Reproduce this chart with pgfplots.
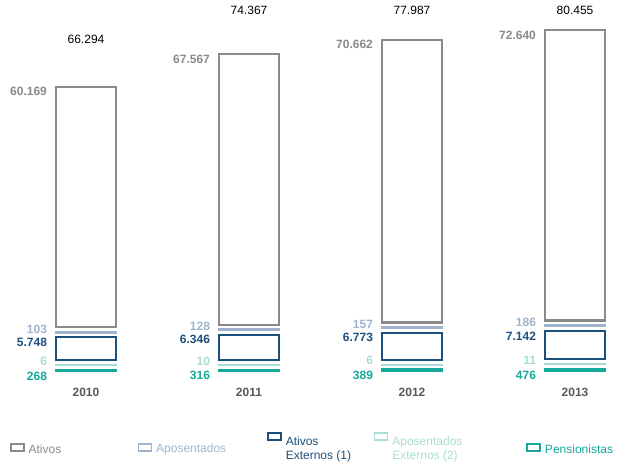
\documentclass[border=0pt]{standalone}
\usepackage{pgfplots}
\pgfplotsset{compat=1.18}
\usepackage{pgfplotstable}
\usepackage{fontspec}
\setmainfont{Liberation Sans}
\definecolor{cAtivos}{HTML}{8A8A8A}
\definecolor{cApos}{HTML}{9FB4CC}
\definecolor{cAtExt}{HTML}{1B4F7C}
\definecolor{cApExt}{HTML}{A8DCD4}
\definecolor{cPens}{HTML}{14A89A}
\definecolor{cYear}{HTML}{595959}
% values in thousands
\pgfplotstableread{
x y lab
0 0.268 268
1 0.316 316
2 0.389 389
3 0.476 476
}\pens
\pgfplotstableread{
x y lab
0 0.006 6
1 0.010 10
2 0.006 6
3 0.011 11
}\apext
\pgfplotstableread{
x y lab
0 5.748 5.748
1 6.346 6.346
2 6.773 6.773
3 7.142 7.142
}\atext
\pgfplotstableread{
x y lab
0 0.103 103
1 0.128 128
2 0.157 157
3 0.186 186
}\apos
\pgfplotstableread{
x y lab
0 60.169 60.169
1 67.567 67.567
2 70.662 70.662
3 72.640 72.640
}\ativos
\pgfplotstableread{
x y
0 1.2
1 1.2
2 1.2
3 1.2
}\gap
\newcommand{\legbox}[2]{\parbox[c][30pt][c]{#1}{#2}}
\begin{document}
\begin{tikzpicture}
\path[use as bounding box] (0,0) rectangle (617pt,466pt);
\begin{axis}[
  scale only axis, width=617pt, height=466pt,
  at={(0,0)}, anchor=south west,
  xmin=-0.5276, xmax=3.2577, ymin=-23.75, ymax=92.75,
  ybar stacked, bar width=60pt,
  axis lines=none, clip=false,
  font=\fontsize{12}{14}\selectfont,
  visualization depends on={rawy \as \rawy},
  every node near coord/.append style={font=\bfseries\fontsize{12}{14}\selectfont, anchor=east, xshift=-38pt, inner sep=0pt},
  legend columns=5, reverse legend,
  legend style={draw=none, fill=none, at={(axis cs:-0.4663,-15.25)}, anchor=north west,
    font=\fontsize{12}{14}\selectfont,
    nodes={inner sep=0pt},
    /tikz/every odd column/.style={column sep=4pt},
    /tikz/every even column/.style={column sep=0pt},
    row sep=0pt, inner sep=0pt, outer sep=0pt},
  legend cell align=left,
]
\addplot[draw=cPens, fill=none, line width=2pt, nodes near coords, point meta=explicit symbolic,
  every node near coord/.append style={color=cPens, yshift={(2*\rawy-6)*1pt}},
  legend image code/.code={\draw[cPens,line width=1.6pt] (0pt,-6.5pt) rectangle (13pt,0.5pt);}]
  table[x=x,y=y,meta=lab]{\pens};
\addlegendentry{\legbox{80pt}{\color{cPens}Pensionistas}}
\addplot[draw=none, fill=none, forget plot] table[x=x,y=y]{\gap};
\addplot[draw=cApExt, fill=none, line width=2pt, nodes near coords, point meta=explicit symbolic,
  every node near coord/.append style={color=cApExt, yshift={(2*\rawy+4)*1pt}},
  legend image code/.code={\draw[cApExt,line width=1.6pt] (0pt,4.5pt) rectangle (13pt,11.5pt);}]
  table[x=x,y=y,meta=lab]{\apext};
\addlegendentry{\legbox{134pt}{\color{cApExt}Aposentados\\Externos (2)}}
\addplot[draw=none, fill=none, forget plot] table[x=x,y=y]{\gap};
\addplot[draw=cAtExt, fill=none, line width=2pt, nodes near coords, point meta=explicit symbolic,
  every node near coord/.append style={color=cAtExt, yshift={(2*\rawy-5)*1pt}},
  legend image code/.code={\draw[cAtExt,line width=1.6pt] (0pt,4.5pt) rectangle (13pt,11.5pt);}]
  table[x=x,y=y,meta=lab]{\atext};
\addlegendentry{\legbox{88pt}{\color{cAtExt}Ativos\\Externos (1)}}
\addplot[draw=none, fill=none, forget plot] table[x=x,y=y]{\gap};
\addplot[draw=cApos, fill=none, line width=2pt, nodes near coords, point meta=explicit symbolic,
  every node near coord/.append style={color=cApos, yshift={(2*\rawy+3)*1pt}},
  legend image code/.code={\draw[cApos,line width=1.6pt] (0pt,-6.5pt) rectangle (13pt,0.5pt);}]
  table[x=x,y=y,meta=lab]{\apos};
\addlegendentry{\legbox{111pt}{\color{cApos}Aposentados}}
\addplot[draw=none, fill=none, forget plot] table[x=x,y=y]{\gap};
\addplot[draw=cAtivos, fill=none, line width=2.2pt, nodes near coords, point meta=explicit symbolic,
  every node near coord/.append style={color=cAtivos, yshift={(2*\rawy-5)*1pt}},
  legend image code/.code={\draw[cAtivos,line width=1.6pt] (0pt,-6.5pt) rectangle (13pt,0.5pt);}]
  table[x=x,y=y,meta=lab]{\ativos};
\addlegendentry{\legbox{109pt}{\color{cAtivos}Ativos}}
% totals
\node[anchor=base] at (axis cs:0,82) {66.294};
\node[anchor=base] at (axis cs:1,89.25) {74.367};
\node[anchor=base] at (axis cs:2,89.25) {77.987};
\node[anchor=base] at (axis cs:3,89.25) {80.455};
% years
\node[font=\bfseries\fontsize{12}{14}\selectfont, text=cYear] at (axis cs:0,-5.25) {2010};
\node[font=\bfseries\fontsize{12}{14}\selectfont, text=cYear] at (axis cs:1,-5.25) {2011};
\node[font=\bfseries\fontsize{12}{14}\selectfont, text=cYear] at (axis cs:2,-5.25) {2012};
\node[font=\bfseries\fontsize{12}{14}\selectfont, text=cYear] at (axis cs:3,-5.25) {2013};
\end{axis}
\end{tikzpicture}
\end{document}
